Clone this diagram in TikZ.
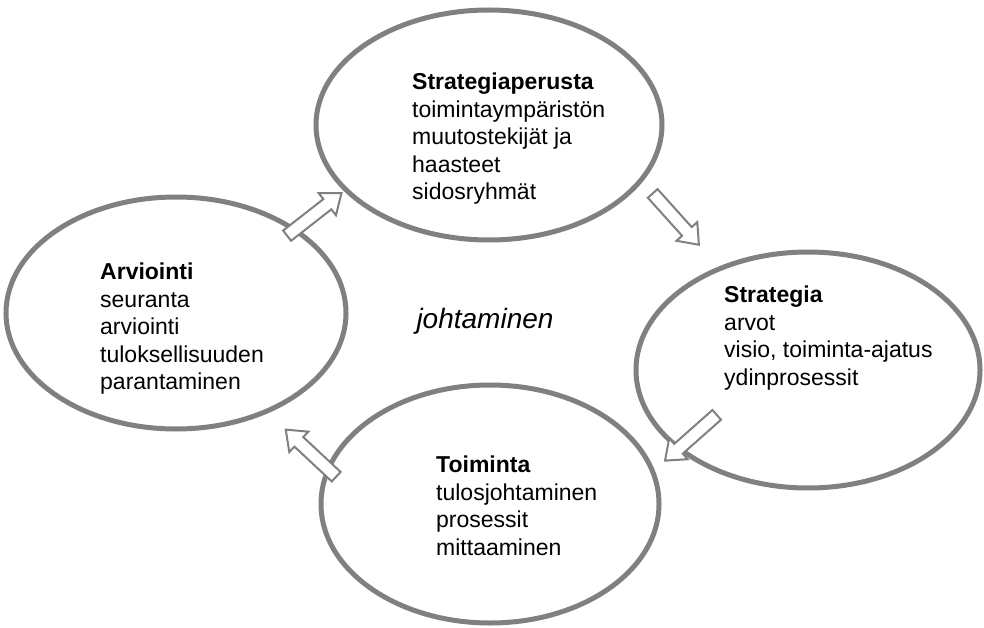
\documentclass[tikz,border=0pt]{standalone}
\usepackage{fontspec}
\setmainfont{Liberation Sans}
\usepackage{tikz}
\usetikzlibrary{shapes.geometric,shapes.arrows}
\definecolor{ringgray}{RGB}{128,128,128}

\begin{document}
\begin{tikzpicture}[x=1pt,y=-1pt,
  phase/.style={ellipse,draw=ringgray,line width=5pt,inner sep=0pt},
  txt/.style={anchor=north west,align=left,inner sep=0pt,font=\fontsize{23}{27.5}\selectfont},
  flow/.style={single arrow,draw=ringgray,line width=2pt,fill=white,inner xsep=0pt,inner ysep=5.5pt,
    minimum height=69pt,single arrow head extend=7.5pt,single arrow tip angle=76}]
\useasboundingbox (0,0) rectangle (984,628);

    % the four ellipses
    \node[phase,minimum width=346pt,minimum height=230pt] (sp)  at (489,125) {};
    \node[phase,minimum width=344pt,minimum height=236pt] (str) at (808,370) {};
    \node[phase,minimum width=338pt,minimum height=238pt] (toi) at (490,504) {};
    \node[phase,minimum width=340pt,minimum height=232pt] (arv) at (176,313) {};

    % texts
    \node[txt] (sptxt)  at (412,73)  {\textbf{Strategiaperusta}\\toimintaympäristön\\muutostekijät ja\\haasteet\\sidosryhmät};
    \node[txt] (strtxt) at (724,286) {\textbf{Strategia}\\arvot\\visio, toiminta-ajatus\\ydinprosessit};
    \node[txt] (toitxt) at (436,456) {\textbf{Toiminta}\\tulosjohtaminen\\prosessit\\mittaaminen};
    \node[txt] (arvtxt) at (100,263) {\textbf{Arviointi}\\seuranta\\arviointi\\tuloksellisuuden\\parantaminen};

    \node[font=\fontsize{28}{32}\selectfont\itshape] (joht) at (485,321) {johtaminen};

    % hollow arrows between the phases
    \node[flow,rotate=38]    (arv2sp)  at (311,217) {};
    \node[flow,rotate=-48]   (sp2str)  at (673,216) {};
    \node[flow,rotate=221.5] (str2toi) at (694,435) {};
    \node[flow,rotate=137]   (toi2arv) at (314,456) {};
\end{tikzpicture}
\end{document}
